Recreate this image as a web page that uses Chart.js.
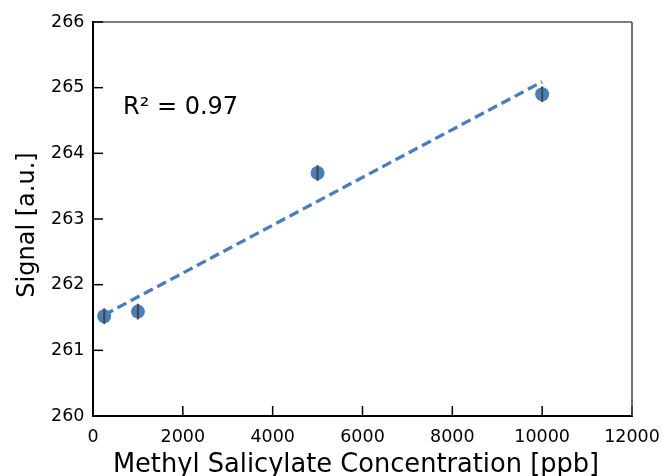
<!DOCTYPE html>
<html>
<head>
<meta charset="utf-8">
<script src="https://cdn.jsdelivr.net/npm/chart.js@4.4.1/dist/chart.umd.min.js"></script>
<style>
  html, body { margin: 0; padding: 0; background: #fff; }
  #wrap { width: 664px; height: 476px; }
</style>
</head>
<body>
<div id="wrap"><canvas id="chart" width="664" height="476"></canvas></div>
<script>
// measured points
const concentration = [250, 1000, 5000, 10000];
const signal = [261.52, 261.59, 263.70, 264.90];
const signalErr = [0.12, 0.12, 0.12, 0.12];

// fitted trend line at its two ends
const trendX = [250, 10000];
const trendY = [261.54, 265.09];

const xTicks = [0, 2000, 4000, 6000, 8000, 10000, 12000];
const yTicks = [260, 261, 262, 263, 264, 265, 266];
const xTitle = 'Methyl Salicylate Concentration [ppb]';
const yTitle = 'Signal [a.u.]';
const fitLabel = 'R² = 0.97';

const blue = '#4a7ebb';
const font = 'DejaVu Sans';

// error bars, inward ticks, frame, axis titles and the R² note
const extras = {
  id: 'extras',
  afterDatasetsDraw(chart) {
    const { ctx, chartArea, scales } = chart;
    const xs = scales.x, ys = scales.y;
    ctx.save();
    ctx.strokeStyle = '#444';
    ctx.lineWidth = 2;
    concentration.forEach((c, i) => {
      const px = xs.getPixelForValue(c);
      ctx.beginPath();
      ctx.moveTo(px, ys.getPixelForValue(signal[i] - signalErr[i]));
      ctx.lineTo(px, ys.getPixelForValue(signal[i] + signalErr[i]));
      ctx.stroke();
    });

    // ticks point into the plot
    ctx.strokeStyle = '#000';
    ctx.lineWidth = 1.5;
    xTicks.forEach(v => {
      const px = xs.getPixelForValue(v);
      ctx.beginPath();
      ctx.moveTo(px, chartArea.bottom);
      ctx.lineTo(px, chartArea.bottom - 10);
      ctx.stroke();
    });
    yTicks.forEach(v => {
      const py = ys.getPixelForValue(v);
      ctx.beginPath();
      ctx.moveTo(chartArea.left, py);
      ctx.lineTo(chartArea.left + 10, py);
      ctx.stroke();
    });

    ctx.lineWidth = 1.2;
    ctx.beginPath();
    ctx.moveTo(chartArea.left, chartArea.top);
    ctx.lineTo(chartArea.right, chartArea.top);
    ctx.stroke();
    ctx.strokeStyle = '#444';
    ctx.lineWidth = 1.5;
    ctx.beginPath();
    ctx.moveTo(chartArea.right, chartArea.top);
    ctx.lineTo(chartArea.right, chartArea.bottom);
    ctx.stroke();

    ctx.fillStyle = '#000';
    ctx.textBaseline = 'alphabetic';
    ctx.font = '24px "' + font + '"';
    ctx.textAlign = 'left';
    ctx.fillText(fitLabel, chartArea.left + 30, chartArea.top + 92);

    ctx.textAlign = 'center';
    ctx.font = '25.7px "' + font + '"';
    ctx.fillText(xTitle, 356, 472);

    ctx.font = '24px "' + font + '"';
    ctx.translate(33.5, 225);
    ctx.rotate(-Math.PI / 2);
    ctx.fillText(yTitle, 0, 0);
    ctx.restore();
  }
};

new Chart(document.getElementById('chart'), {
  data: {
    datasets: [
      {
        type: 'scatter',
        data: concentration.map((c, i) => ({ x: c, y: signal[i] })),
        backgroundColor: blue,
        borderColor: blue,
        pointRadius: 7,
        borderWidth: 0
      },
      {
        type: 'line',
        data: trendX.map((c, i) => ({ x: c, y: trendY[i] })),
        borderColor: blue,
        borderWidth: 3.3,
        borderDash: [10, 5],
        pointRadius: 0,
        fill: false
      }
    ]
  },
  options: {
    responsive: false,
    animation: false,
    layout: { padding: { left: 0, top: 22, right: 32, bottom: 0 } },
    plugins: { legend: { display: false }, tooltip: { enabled: false } },
    scales: {
      x: {
        type: 'linear',
        min: 0,
        max: 12000,
        afterBuildTicks: s => { s.ticks = xTicks.map(v => ({ value: v })); },
        afterFit: s => { s.height = 60; s.paddingLeft = 0; s.paddingRight = 0; },
        grid: { display: false, drawTicks: false },
        border: { display: true, color: '#000', width: 2 },
        ticks: {
          color: '#000', padding: 11, maxRotation: 0,
          font: { family: font, size: 17.5 },
          callback: v => String(v)
        },
        title: { display: false }
      },
      y: {
        type: 'linear',
        min: 260,
        max: 266,
        afterBuildTicks: s => { s.ticks = yTicks.map(v => ({ value: v })); },
        afterFit: s => { s.width = 93; s.paddingTop = 0; s.paddingBottom = 0; },
        grid: { display: false, drawTicks: false },
        border: { display: true, color: '#000', width: 2 },
        ticks: {
          color: '#000', padding: 8.5,
          font: { family: font, size: 17.5 },
          callback: v => String(v)
        },
        title: { display: false }
      }
    }
  },
  plugins: [extras]
});
</script>
</body>
</html>
